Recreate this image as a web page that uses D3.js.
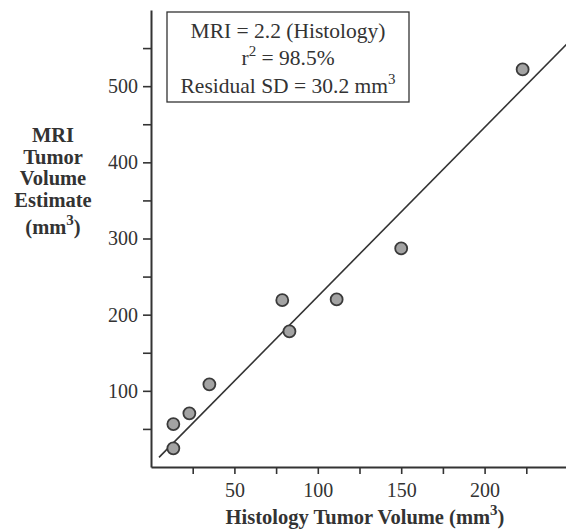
<!DOCTYPE html>
<html>
<head>
<meta charset="utf-8">
<script src="https://cdn.jsdelivr.net/npm/d3@7"></script>
<style>
  html, body { margin: 0; padding: 0; background: #fff; }
  svg { display: block; }
  svg text { font-family: "Liberation Serif", "Times New Roman", serif !important; fill: #333; }
</style>
</head>
<body>
<svg id="chart" width="566" height="529"></svg>
<script>
// ---- data ----
const histology = [13.4, 13.4, 23, 35, 78.7, 83, 111.3, 150, 222.8];
const mriEstimate = [24.5, 56.4, 70.5, 108.5, 219, 178, 220, 287, 522];
const fitSlope = 2.22;
const fitIntercept = 2;
const fitRange = [4.8, 250];
const xMajorTicks = [50, 100, 150, 200];
const xAllTicks = [25, 50, 75, 100, 125, 150, 175, 200, 225];
const yMajorTicks = [100, 200, 300, 400, 500];
const yAllTicks = [50, 100, 150, 200, 250, 300, 350, 400, 450, 500, 550];
const boxLines = ["MRI = 2.2 (Histology)", "r2 = 98.5%", "Residual SD = 30.2 mm3"];

const svg = d3.select("#chart");
const x = d3.scaleLinear().domain([0, 250]).range([151, 568]);
const y = d3.scaleLinear().domain([0, 600]).range([467, 10]);
const ink = "#333";

// x axis
const xAxis = d3.axisBottom(x).tickValues(xAllTicks).tickSize(7).tickSizeOuter(0)
  .tickFormat(d => xMajorTicks.includes(d) ? d : "");
const gx = svg.append("g").attr("transform", `translate(0,${y(0)})`).call(xAxis)
  .attr("font-family", null).attr("font-size", 20);
gx.select(".domain").attr("stroke", ink).attr("stroke-width", 2);
gx.selectAll(".tick line").attr("stroke", ink).attr("stroke-width", 1.6);
gx.selectAll(".tick text").attr("fill", ink).attr("dy", "1.0em");

// y axis
const yAxis = d3.axisLeft(y).tickValues(yAllTicks).tickSize(8).tickSizeOuter(0)
  .tickFormat(d => yMajorTicks.includes(d) ? d : "");
const gy = svg.append("g").attr("transform", `translate(${x(0)},0)`).call(yAxis)
  .attr("font-family", null).attr("font-size", 20);
gy.select(".domain").attr("stroke", ink).attr("stroke-width", 2);
gy.selectAll(".tick line").attr("stroke", ink).attr("stroke-width", 1.6);
gy.selectAll(".tick text").attr("fill", ink).attr("x", -13);

// regression line
svg.append("line")
  .attr("x1", x(fitRange[0])).attr("y1", y(fitSlope * fitRange[0] + fitIntercept))
  .attr("x2", x(fitRange[1])).attr("y2", y(fitSlope * fitRange[1] + fitIntercept))
  .attr("stroke", ink).attr("stroke-width", 1.6);

// points
svg.append("g").selectAll("circle")
  .data(histology.map((h, i) => [h, mriEstimate[i]]))
  .join("circle")
  .attr("cx", d => x(d[0])).attr("cy", d => y(d[1])).attr("r", 6)
  .attr("fill", "#a3a3a3").attr("stroke", "#3a3a3a").attr("stroke-width", 1.8);

// annotation box
svg.append("rect").attr("x", 167).attr("y", 12).attr("width", 242).attr("height", 90)
  .attr("fill", "#fff").attr("stroke", ink).attr("stroke-width", 1.3);
const bt = svg.append("g").attr("font-size", 21.5).attr("text-anchor", "middle");
bt.append("text").attr("x", 288).attr("y", 38).text(boxLines[0]);
const t2 = bt.append("text").attr("x", 288).attr("y", 65);
t2.append("tspan").text("r");
t2.append("tspan").attr("dy", -9).attr("font-size", 15).text("2");
t2.append("tspan").attr("dy", 9).text(" = 98.5%");
const t3 = bt.append("text").attr("x", 288).attr("y", 93);
t3.append("tspan").text("Residual SD = 30.2 mm");
t3.append("tspan").attr("dy", -9).attr("font-size", 15).text("3");

// x title
const xt = svg.append("text").attr("x", 365).attr("y", 524).attr("text-anchor", "middle")
  .attr("font-size", 20.5).attr("font-weight", "bold");
xt.append("tspan").text("Histology Tumor Volume (mm");
xt.append("tspan").attr("dy", -9).attr("font-size", 15).text("3");
xt.append("tspan").attr("dy", 9).text(")");

// y title
const yLines = ["MRI", "Tumor", "Volume", "Estimate"];
const yt = svg.append("g").attr("font-size", 20.5).attr("font-weight", "bold").attr("text-anchor", "middle");
yLines.forEach((s, i) => {
  yt.append("text").attr("x", 53).attr("y", 142 + i * 21.7).text(s);
});
const y5 = yt.append("text").attr("x", 53).attr("y", 234);
y5.append("tspan").text("(mm");
y5.append("tspan").attr("dy", -9).attr("font-size", 15).text("3");
y5.append("tspan").attr("dy", 9).text(")");
</script>
</body>
</html>
